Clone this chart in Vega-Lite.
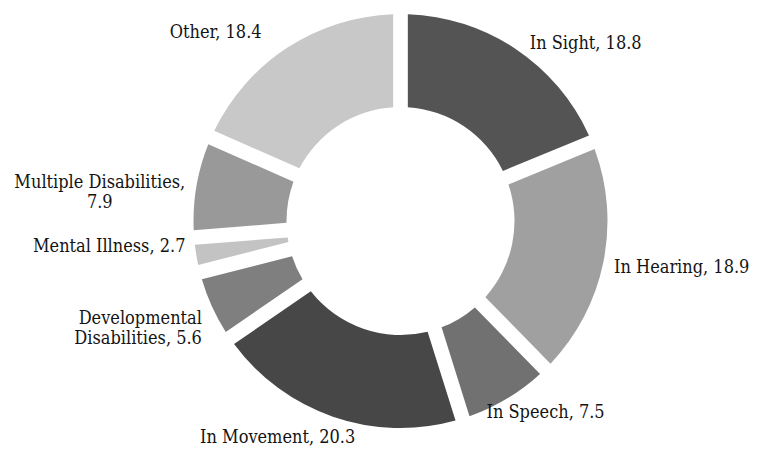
{
  "$schema": "https://vega.github.io/schema/vega-lite/v6.json",
  "width": 713,
  "height": 442,
  "autosize": "none",
  "padding": {"left": 44, "top": 0, "right": 0, "bottom": 8},
  "background": "white",
  "view": {"stroke": null},
  "config": {
    "text": {"font": "DejaVu Serif Condensed", "fontSize": 18, "color": "#141414", "lineBreak": "\n", "baseline": "middle"}
  },
  "data": {
    "values": [
      {"order": 1, "category": "In Sight", "value": 18.8, "label": "In Sight, 18.8"},
      {"order": 2, "category": "In Hearing", "value": 18.9, "label": "In Hearing, 18.9"},
      {"order": 3, "category": "In Speech", "value": 7.5, "label": "In Speech, 7.5"},
      {"order": 4, "category": "In Movement", "value": 20.3, "label": "In Movement, 20.3"},
      {"order": 5, "category": "Developmental Disabilities", "value": 5.6, "label": "Developmental\nDisabilities, 5.6"},
      {"order": 6, "category": "Mental Illness", "value": 2.7, "label": "Mental Illness, 2.7"},
      {"order": 7, "category": "Multiple Disabilities", "value": 7.9, "label": "Multiple Disabilities,\n7.9"},
      {"order": 8, "category": "Other", "value": 18.4, "label": "Other, 18.4"}
    ]
  },
  "encoding": {
    "theta": {"field": "value", "type": "quantitative", "stack": true},
    "order": {"field": "order", "type": "quantitative", "sort": "ascending"}
  },
  "layer": [
    {
      "mark": {"type": "arc", "innerRadius": 114, "outerRadius": 207, "padAngle": 0.062},
      "encoding": {
        "color": {
          "field": "category",
          "type": "nominal",
          "legend": null,
          "scale": {
            "domain": ["In Sight", "In Hearing", "In Speech", "In Movement", "Developmental Disabilities", "Mental Illness", "Multiple Disabilities", "Other"],
            "range": ["#545454", "#a0a0a0", "#717171", "#474747", "#7f7f7f", "#c3c3c3", "#999999", "#c8c8c8"]
          }
        }
      }
    },
    {
      "mark": {"type": "text", "align": "left", "dx": 8, "dy": 4},
      "encoding": {
        "radius": {"value": 218},
        "text": {"condition": {"test": "datum.category === 'In Sight'", "field": "label"}, "value": ""}
      }
    },
    {
      "mark": {"type": "text", "align": "left", "dy": 3},
      "encoding": {
        "radius": {"value": 218},
        "text": {"condition": {"test": "datum.category === 'In Hearing'", "field": "label"}, "value": ""}
      }
    },
    {
      "mark": {"type": "text", "align": "left", "dx": -26, "dy": 5},
      "encoding": {
        "radius": {"value": 218},
        "text": {"condition": {"test": "datum.category === 'In Speech'", "field": "label"}, "value": ""}
      }
    },
    {
      "mark": {"type": "text", "align": "right", "dx": 26, "dy": 11},
      "encoding": {
        "radius": {"value": 218},
        "text": {"condition": {"test": "datum.category === 'In Movement'", "field": "label"}, "value": ""}
      }
    },
    {
      "mark": {"type": "text", "align": "right", "dy": 8},
      "encoding": {
        "radius": {"value": 218},
        "text": {"condition": {"test": "datum.category === 'Developmental Disabilities'", "field": "label"}, "value": ""}
      }
    },
    {
      "mark": {"type": "text", "align": "right", "dy": -10},
      "encoding": {
        "radius": {"value": 218},
        "text": {"condition": {"test": "datum.category === 'Mental Illness'", "field": "label"}, "value": ""}
      }
    },
    {
      "mark": {"type": "text", "align": "right", "dx": -15, "dy": 2},
      "encoding": {
        "radius": {"value": 227},
        "text": {"condition": {"test": "datum.category === 'Other'", "field": "label"}, "value": ""}
      }
    },
    {
      "mark": {"type": "text", "align": "center", "dy": 13},
      "encoding": {
        "radius": {"value": 305},
        "text": {"condition": {"test": "datum.category === 'Multiple Disabilities'", "field": "label"}, "value": ""}
      }
    }
  ]
}
